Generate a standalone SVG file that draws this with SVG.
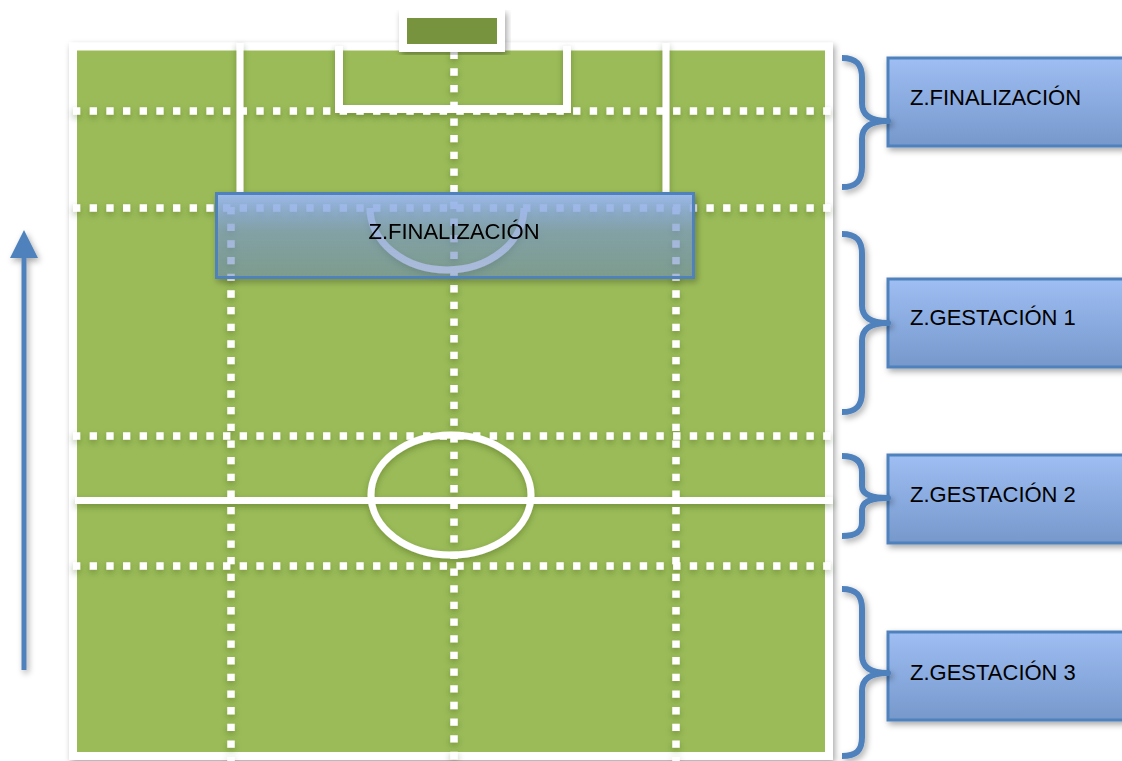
<svg xmlns="http://www.w3.org/2000/svg" width="1122" height="761" viewBox="0 0 1122 761">
<defs>
<style>
.dot{stroke:#fff;stroke-width:7.5;stroke-dasharray:7.3 9.37;fill:none}
.solid{stroke:#fff;fill:none}
.brace{stroke:#4F81BD;stroke-width:6;fill:none;stroke-linejoin:round}
.zone{fill:url(#gBox);stroke:#4F81BD;stroke-width:3}
.lbl{font-family:"Liberation Sans",Arial,sans-serif;font-size:22px;fill:#000}
</style>
<linearGradient id="gBox" x1="0" y1="0" x2="0" y2="1">
<stop offset="0" stop-color="#9FBEF3"/>
<stop offset="0.5" stop-color="#8AABDF"/>
<stop offset="1" stop-color="#7698CB"/>
</linearGradient>
<linearGradient id="gMid" x1="0" y1="0" x2="0" y2="1">
<stop offset="0" stop-color="#9DBCF6" stop-opacity="0.92"/>
<stop offset="0.45" stop-color="#7F9FD6" stop-opacity="0.6"/>
<stop offset="1" stop-color="#6E8ECA" stop-opacity="0.45"/>
</linearGradient>
<filter id="sh" x="-10%" y="-10%" width="120%" height="130%">
<feDropShadow dx="2" dy="3" stdDeviation="3" flood-color="#000" flood-opacity="0.35"/>
</filter>
<filter id="lsh" x="-5%" y="-5%" width="110%" height="110%">
<feDropShadow dx="0" dy="3" stdDeviation="3" flood-color="#2f4010" flood-opacity="0.35"/>
</filter>
</defs>

<g id="field" filter="url(#sh)">
<rect x="73" y="46.5" width="756" height="709.5" fill="#9BBB59" stroke="#fff" stroke-width="8"/>
</g>

<g id="field-lines" filter="url(#lsh)">
<line class="dot" x1="73" y1="111" x2="833" y2="111"/>
<line class="dot" x1="73" y1="208" x2="833" y2="208"/>
<line class="dot" x1="73" y1="436" x2="833" y2="436"/>
<line class="dot" x1="73" y1="566" x2="833" y2="566"/>
<line class="dot" x1="454" y1="51.7" x2="454" y2="761"/>
<line class="dot" x1="231" y1="207" x2="231" y2="761"/>
<line class="dot" x1="676" y1="207" x2="676" y2="761"/>
<line class="solid" stroke-width="7" x1="75" y1="500.5" x2="833" y2="500.5"/>
<line class="solid" stroke-width="7" x1="240" y1="43" x2="240" y2="192"/>
<line class="solid" stroke-width="7" x1="666" y1="43" x2="666" y2="192"/>
<path class="solid" stroke-width="8" d="M339,46 V109 H567 V46"/>
<ellipse class="solid" stroke-width="7" cx="451" cy="495" rx="80" ry="60"/>
<path class="solid" stroke-width="7" d="M370,208 A77,62 0 0 0 524,208"/>
</g>

<g id="goal" filter="url(#sh)">
<rect x="403" y="14" width="98" height="34" fill="#77933C" stroke="#fff" stroke-width="8"/>
</g>

<g id="center-zone" filter="url(#sh)">
<rect x="216.5" y="193.5" width="477" height="84" fill="url(#gMid)" stroke="#4F81BD" stroke-width="3"/>
<text class="lbl" x="454" y="239" text-anchor="middle">Z.FINALIZACIÓN</text>
</g>

<g id="zone-finalizacion">
<rect class="zone" x="888" y="58" width="245" height="88" filter="url(#sh)"/>
<text class="lbl" x="910" y="105">Z.FINALIZACIÓN</text>
</g>
<g id="zone-gestacion-1">
<rect class="zone" x="888" y="279" width="245" height="88" filter="url(#sh)"/>
<text class="lbl" x="910" y="325">Z.GESTACIÓN 1</text>
</g>
<g id="zone-gestacion-2">
<rect class="zone" x="888" y="455" width="245" height="88" filter="url(#sh)"/>
<text class="lbl" x="910" y="502">Z.GESTACIÓN 2</text>
</g>
<g id="zone-gestacion-3">
<rect class="zone" x="888" y="632" width="245" height="88" filter="url(#sh)"/>
<text class="lbl" x="910" y="680">Z.GESTACIÓN 3</text>
</g>

<g id="connectors" filter="url(#sh)">
<path class="brace" d="M842,58 C856,58 862,64 862,78 L862,103 C862,115 870,121 888,121 C870,121 862,127 862,139 L862,167 C862,181 856,187 842,187"/>
<path class="brace" d="M842,234 C856,234 862,240 862,254 L862,305 C862,317 870,323 888,323 C870,323 862,329 862,341 L862,392 C862,406 856,412 842,412"/>
<path class="brace" d="M842,456 C856,456 862,462 862,472 L862,486 C862,494 870,498 888,498 C870,498 862,502 862,510 L862,522 C862,532 856,536 842,536"/>
<path class="brace" d="M842,589 C856,589 862,595 862,609 L862,655 C862,667 870,673 888,673 C870,673 862,679 862,691 L862,737 C862,751 856,756 842,756"/>
<line x1="24" y1="670" x2="24" y2="255" stroke="#4F81BD" stroke-width="5"/>
<polygon points="24,230 10,258 38,258" fill="#4F81BD"/>
</g>
</svg>
